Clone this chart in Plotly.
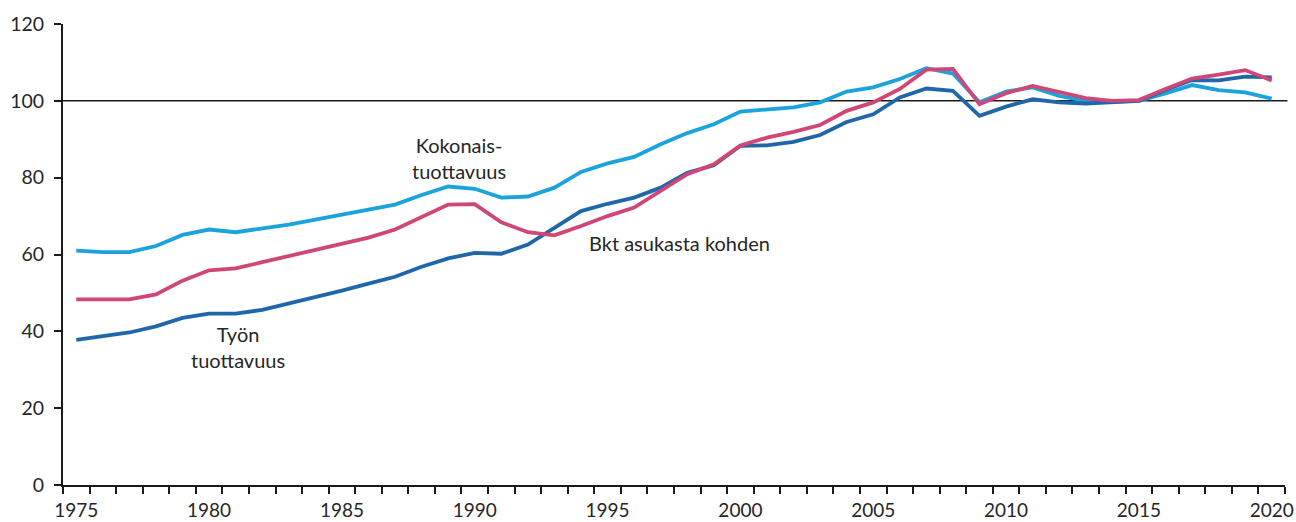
import plotly.graph_objects as go

years = list(range(1975, 2021))

kokonaistuottavuus = [61.0, 60.6, 60.6, 62.2, 65.1, 66.5, 65.8, 66.8, 67.8, 69.1,
                      70.4, 71.7, 73.0, 75.5, 77.7, 77.1, 74.8, 75.1, 77.4, 81.5,
                      83.7, 85.4, 88.7, 91.6, 93.9, 97.2, 97.8, 98.3, 99.6, 102.4,
                      103.5, 105.7, 108.5, 107.1, 99.6, 102.4, 103.5, 101.3, 100.0, 99.8,
                      100.0, 101.9, 104.1, 102.8, 102.2, 100.6]

bkt_asukasta_kohden = [48.3, 48.4, 48.3, 49.6, 53.2, 55.9, 56.4, 58.0, 59.6, 61.1,
                       62.8, 64.4, 66.5, 69.7, 73.0, 73.1, 68.4, 65.8, 65.0, 67.4,
                       70.0, 72.2, 76.5, 80.9, 83.5, 88.4, 90.4, 91.9, 93.7, 97.4,
                       99.6, 103.1, 108.1, 108.3, 99.1, 102.0, 103.9, 102.2, 100.7, 100.0,
                       100.2, 103.1, 105.8, 106.8, 108.0, 105.3]

tyon_tuottavuus = [37.8, 38.8, 39.7, 41.3, 43.5, 44.6, 44.6, 45.6, 47.2, 48.9,
                   50.6, 52.4, 54.2, 56.8, 59.0, 60.4, 60.2, 62.6, 67.0, 71.3,
                   73.2, 74.8, 77.4, 81.3, 83.2, 88.3, 88.4, 89.3, 91.1, 94.5,
                   96.5, 100.9, 103.2, 102.6, 96.1, 98.5, 100.4, 99.6, 99.3, 99.6,
                   100.0, 102.8, 105.4, 105.3, 106.3, 106.1]

label_years = [1975, 1980, 1985, 1990, 1995, 2000, 2005, 2010, 2015, 2020]
y_ticks = [0, 20, 40, 60, 80, 100, 120]

FONT = "Lato"
TXT = "#262626"

fig = go.Figure()
fig.add_trace(go.Scatter(x=years, y=kokonaistuottavuus, mode="lines",
                         line=dict(color="#1AA3DD", width=3.8), name="Kokonaistuottavuus"))
fig.add_trace(go.Scatter(x=years, y=tyon_tuottavuus, mode="lines",
                         line=dict(color="#1F66AA", width=3.8), name="Työn tuottavuus"))
fig.add_trace(go.Scatter(x=years, y=bkt_asukasta_kohden, mode="lines",
                         line=dict(color="#CF4677", width=3.8), name="Bkt asukasta kohden"))

fig.add_shape(type="line", xref="paper", yref="y", x0=0, x1=1.002, y0=100, y1=100,
              line=dict(color="#1a1a1a", width=1.5), layer="below")

ann_font = dict(family=FONT, size=20, color=TXT)
fig.add_annotation(x=1989.4, y=85.0, text="Kokonais-<br>tuottavuus", showarrow=False,
                   font=ann_font, align="center")
fig.add_annotation(x=1997.7, y=63.1, text="Bkt asukasta kohden", showarrow=False,
                   font=ann_font, align="center")
fig.add_annotation(x=1981.1, y=36.0, text="Työn<br>tuottavuus", showarrow=False,
                   font=ann_font, align="center")

fig.update_layout(
    width=1296, height=522,
    margin=dict(l=63, r=11, t=24, b=37, autoexpand=False),
    paper_bgcolor="white", plot_bgcolor="white",
    showlegend=False,
    font=dict(family=FONT, size=19.5, color=TXT),
    xaxis=dict(
        range=[1974.5, 2020.5], automargin=False,
        tickvals=label_years, ticktext=[str(y) for y in label_years],
        ticks="", showgrid=False, zeroline=False,
        showline=True, linecolor="#1a1a1a", linewidth=2,
        tickfont=dict(family=FONT, size=19, color=TXT),
        ticklabelstandoff=7,
        minor=dict(tickvals=[y - 0.5 for y in years] + [2020.5], ticks="outside",
                   ticklen=7, tickcolor="#1a1a1a", tickwidth=1.5, showgrid=False),
    ),
    yaxis=dict(
        range=[0, 120], tickvals=y_ticks, automargin=False,
        ticks="outside", ticklen=7, tickcolor="#1a1a1a", tickwidth=1.5,
        showgrid=False, zeroline=False,
        showline=True, linecolor="#1a1a1a", linewidth=2,
        tickfont=dict(family=FONT, size=19.5, color=TXT),
        ticklabelstandoff=6,
    ),
)

fig.write_html("out.html", config={"displayModeBar": False},
               post_script="document.body.style.margin='0';document.body.style.padding='0';")
